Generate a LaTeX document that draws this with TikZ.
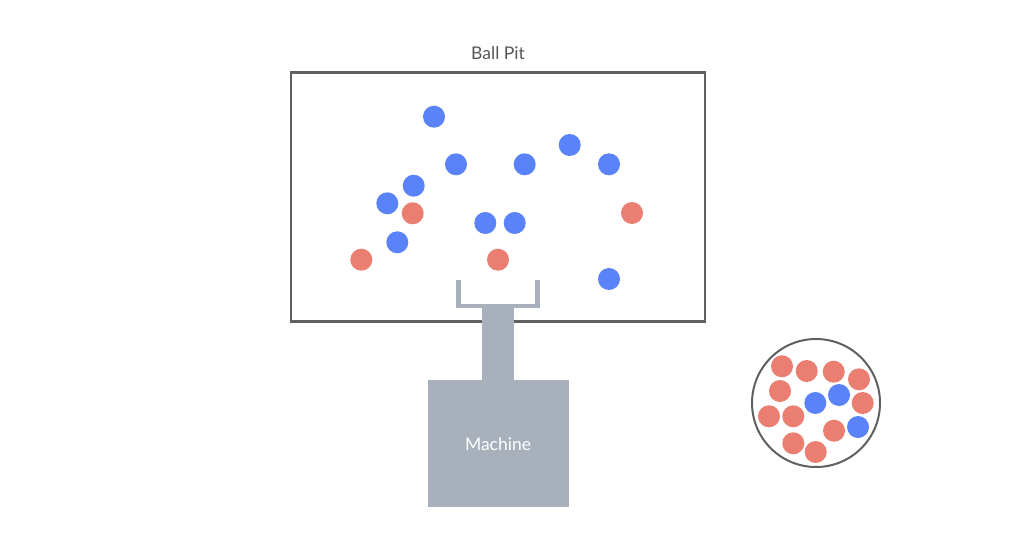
\documentclass[tikz,border=0pt]{standalone}
\usepackage{fontspec}
\setmainfont{Lato}
\definecolor{ballblue}{HTML}{5A82F9}
\definecolor{ballred}{HTML}{EA7E70}
\definecolor{machgray}{HTML}{A8B1BB}
\definecolor{edgegray}{HTML}{5F6061}
\definecolor{textgray}{HTML}{555555}
\tikzset{
  bb/.style={circle, fill=ballblue, minimum size=22pt, inner sep=0pt},
  rb/.style={circle, fill=ballred, minimum size=22pt, inner sep=0pt},
  lbl/.style={font=\fontsize{17.5}{20}\selectfont},
}
\begin{document}
\begin{tikzpicture}[x=1pt,y=-1pt]
\useasboundingbox (0,0) rectangle (1024,559);
\fill[white] (0,0) rectangle (1024,559);
% ball pit
\node[lbl, text=textgray] (title) at (498,53) {Ball Pit};
\draw[edgegray, line width=2.5pt] (291,72.5) rectangle (705,321.5);
% balls in pit
\node[bb] (p1) at (434,116.7) {};
\node[bb] (p2) at (456,164.3) {};
\node[bb] (p3) at (524.7,164.3) {};
\node[bb] (p4) at (569.7,145) {};
\node[bb] (p5) at (609,164.3) {};
\node[bb] (p6) at (413.7,185.7) {};
\node[bb] (p7) at (387.3,203.3) {};
\node[rb] (p8) at (412.7,213.3) {};
\node[bb] (p9) at (485.3,223) {};
\node[bb] (p10) at (514.7,223) {};
\node[rb] (p11) at (632,213) {};
\node[bb] (p12) at (397.3,242.3) {};
\node[rb] (p13) at (361.3,259.7) {};
\node[rb] (p14) at (498,259.7) {};
\node[bb] (p15) at (609,279) {};
% scoop
\draw[machgray, line width=4.5pt] (458.3,280) -- (458.3,306) -- (537.3,306) -- (537.3,280);
\fill[machgray] (481.7,306) rectangle (514.3,381);
% machine
\node[fill=machgray, minimum width=141.4pt, minimum height=126.7pt, inner sep=0pt, anchor=north west] (machine) at (427.3,380) {};
\node[lbl, text=white] (mlabel) at (498,444) {Machine};
% bag
\node[circle, draw=edgegray, line width=2pt, minimum size=128pt, inner sep=0pt] (bag) at (816,403) {};
\node[rb] (c1) at (782,366.3) {};
\node[rb] (c2) at (806.7,371) {};
\node[rb] (c3) at (833.7,371.7) {};
\node[rb] (c4) at (859,379.3) {};
\node[rb] (c5) at (780,391) {};
\node[bb] (c6) at (815.3,403) {};
\node[bb] (c7) at (839,395) {};
\node[rb] (c8) at (862.7,403) {};
\node[rb] (c9) at (769,416.3) {};
\node[rb] (c10) at (793.3,416.3) {};
\node[rb] (c11) at (834,430.7) {};
\node[bb] (c12) at (858,427) {};
\node[rb] (c13) at (793.3,443.3) {};
\node[rb] (c14) at (815.7,452) {};
\end{tikzpicture}
\end{document}
